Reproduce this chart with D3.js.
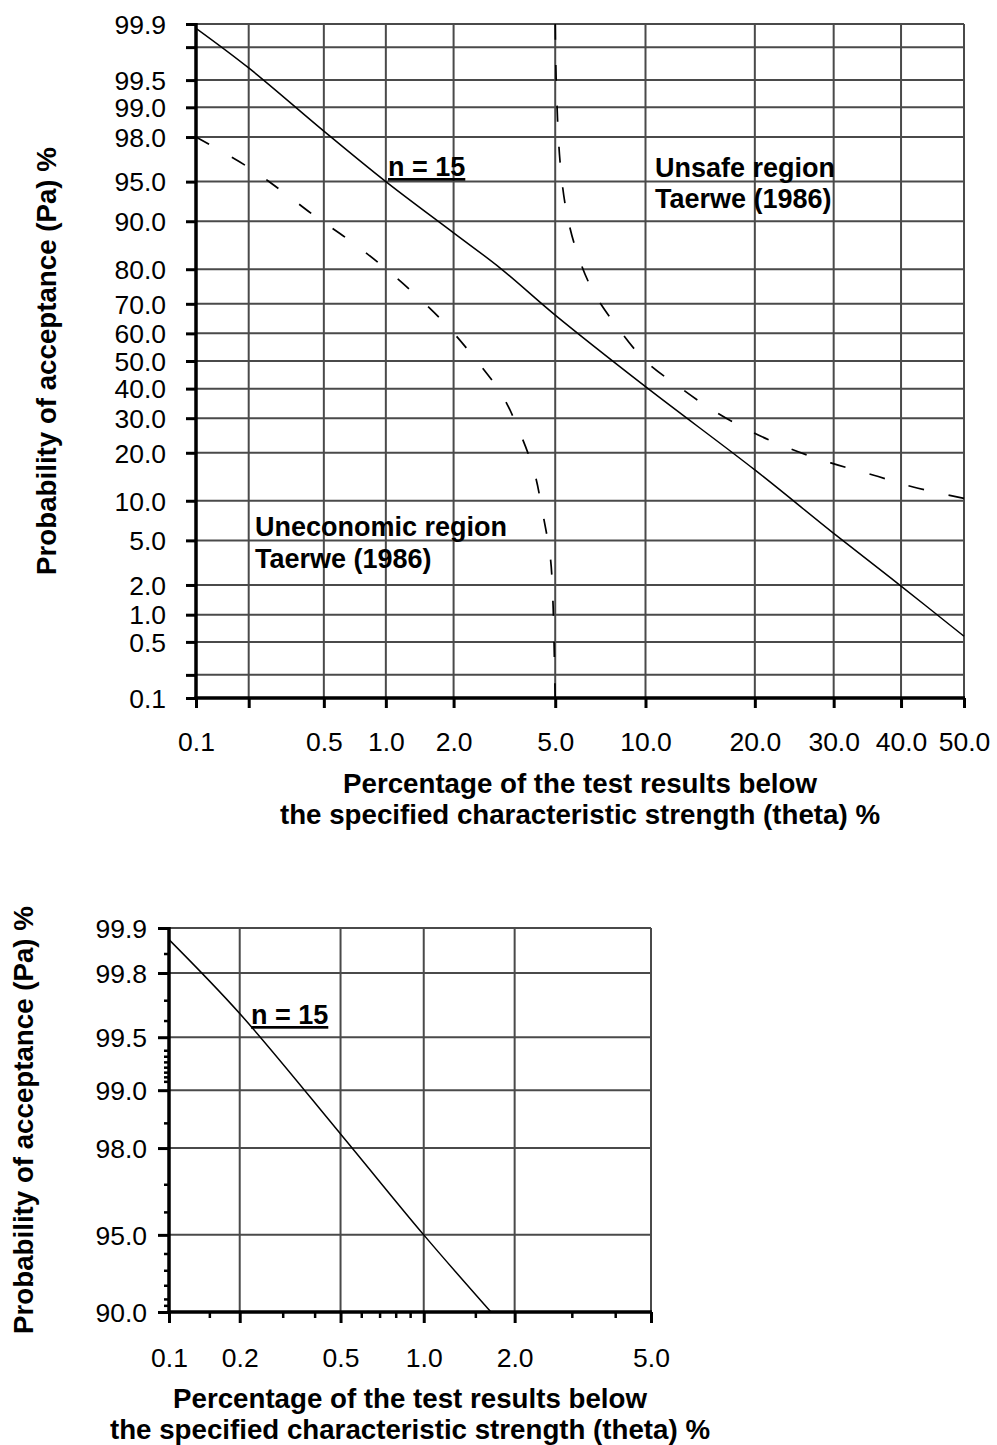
<!DOCTYPE html>
<html>
<head>
<meta charset="utf-8">
<script src="https://cdn.jsdelivr.net/npm/d3@7/dist/d3.min.js"></script>
<style>
  html, body { margin: 0; padding: 0; background: #fff; }
  svg { display: block; font-family: "Liberation Sans", Arial, sans-serif; }
  .tick text { font-size: 26.5px; fill: #000; }
  .title { font-size: 27.7px; font-weight: bold; fill: #000; }
  .note { font-size: 27px; font-weight: bold; fill: #000; }
</style>
</head>
<body>
<svg id="chart" width="997" height="1445"></svg>
<script>
// ---------------- DATA ----------------
// Top chart axes (percent values on normal-probability paper)
const topXTicks  = [0.1, 0.2, 0.5, 1.0, 2.0, 5.0, 10.0, 20.0, 30.0, 40.0, 50.0];
const topXLabels = ["0.1", "", "0.5", "1.0", "2.0", "5.0", "10.0", "20.0", "30.0", "40.0", "50.0"];
const topYTicks  = [99.9, 99.8, 99.5, 99.0, 98.0, 95.0, 90.0, 80.0, 70.0, 60.0, 50.0, 40.0, 30.0, 20.0, 10.0, 5.0, 2.0, 1.0, 0.5, 0.2, 0.1];
const topYLabels = ["99.9", "", "99.5", "99.0", "98.0", "95.0", "90.0", "80.0", "70.0", "60.0", "50.0", "40.0", "30.0", "20.0", "10.0", "5.0", "2.0", "1.0", "0.5", "", "0.1"];

// OC curve n = 15 (theta %, Pa %)
const n15Theta = [0.1, 0.2, 0.5, 1.0, 2.0, 3.1, 5.0, 10.0, 20.0, 30.0, 40.0, 50.0];
const n15Pa    = [99.886, 99.64, 98.25, 95.0, 88.0, 80.3, 66.3, 40.7, 15.9, 5.7, 1.95, 0.58];

// Uneconomic region boundary, Taerwe (1986)
const uneconTheta = [0.1, 0.2, 0.3, 0.45, 0.69, 1.0, 1.4, 1.9, 2.5, 3.15, 3.7, 4.2, 4.5, 4.8, 4.9, 4.95, 5.0];
const uneconPa    = [98.0, 96.2, 94.1, 90.8, 86.2, 80.1, 72.1, 62.2, 50.0, 37.8, 25.5, 15.2, 8.2, 3.6, 1.5, 0.52, 0.1];

// Unsafe region boundary, Taerwe (1986)
const unsafeTheta = [5.0, 5.04, 5.2, 5.47, 5.93, 6.74, 8.1, 10.0, 12.5, 15.6, 19.5, 24.3, 29.6, 35.7, 41.9, 50.0];
const unsafePa    = [99.9, 99.5, 96.7, 91.7, 84.6, 74.3, 62.6, 50.0, 40.9, 32.6, 26.0, 21.0, 17.5, 14.8, 12.4, 10.4];

// Bottom chart (zoom) axes
const botXTicks  = [0.1, 0.2, 0.5, 1.0, 2.0, 5.0];
const botXLabels = ["0.1", "0.2", "0.5", "1.0", "2.0", "5.0"];
const botXMinor  = [0.15, 0.3, 0.4, 0.6, 0.7, 0.8, 0.9, 1.5, 3.0, 4.0];
const botYTicks  = [99.9, 99.8, 99.5, 99.0, 98.0, 95.0, 90.0];
const botYLabels = ["99.9", "99.8", "99.5", "99.0", "98.0", "95.0", "90.0"];
const botYMinor  = [99.85, 99.7, 99.6, 99.4, 99.35, 99.3, 99.25, 99.2, 99.15, 99.1, 98.5, 97.0, 96.0, 94.0, 93.0, 92.0, 91.0, 90.5];

// OC curve n = 15 in the zoomed range
const zoomTheta = [0.1, 0.2, 0.5, 1.0, 1.68];
const zoomPa    = [99.88, 99.64, 98.3, 95.0, 90.0];

const xTitle1 = "Percentage of the test results below";
const xTitle2 = "the specified characteristic strength (theta) %";
const yTitle  = "Probability of acceptance (Pa) %";

// ---------------- HELPERS ----------------
function probit(p) {
  const a = [-3.969683028665376e+01, 2.209460984245205e+02, -2.759285104469687e+02, 1.383577518672690e+02, -3.066479806614716e+01, 2.506628277459239e+00];
  const b = [-5.447609879822406e+01, 1.615858368580409e+02, -1.556989798598866e+02, 6.680131188771972e+01, -1.328068155288572e+01];
  const c = [-7.784894002430293e-03, -3.223964580411365e-01, -2.400758277161838e+00, -2.549671500268305e+00, 4.374664141464968e+00, 2.938163982698783e+00];
  const d = [7.784695709041462e-03, 3.224671290700398e-01, 2.445134137142996e+00, 3.754408661907416e+00];
  const plow = 0.02425, phigh = 1 - plow;
  let q, r;
  if (p < plow) {
    q = Math.sqrt(-2 * Math.log(p));
    return (((((c[0]*q+c[1])*q+c[2])*q+c[3])*q+c[4])*q+c[5]) / ((((d[0]*q+d[1])*q+d[2])*q+d[3])*q+1);
  } else if (p <= phigh) {
    q = p - 0.5; r = q*q;
    return (((((a[0]*r+a[1])*r+a[2])*r+a[3])*r+a[4])*r+a[5])*q / (((((b[0]*r+b[1])*r+b[2])*r+b[3])*r+b[4])*r+1);
  } else {
    q = Math.sqrt(-2 * Math.log(1 - p));
    return -(((((c[0]*q+c[1])*q+c[2])*q+c[3])*q+c[4])*q+c[5]) / ((((d[0]*q+d[1])*q+d[2])*q+d[3])*q+1);
  }
}
const zv = v => probit(v / 100);

const svg = d3.select("#chart");
const GRID = "#4a4a4a";

function drawPanel(cfg) {
  const g = svg.append("g");
  const xs = d3.scaleLinear().domain([zv(cfg.xMin), zv(cfg.xMax)]).range([cfg.left, cfg.right]);
  const ys = d3.scaleLinear().domain([zv(cfg.yMin), zv(cfg.yMax)]).range([cfg.bottom, cfg.top]);
  const X = v => xs(zv(v)), Y = v => ys(zv(v));

  // gridlines
  g.append("g").selectAll("line").data(cfg.xTicks.filter(v => v !== cfg.xMin))
    .join("line").attr("x1", X).attr("x2", X).attr("y1", cfg.top).attr("y2", cfg.bottom)
    .attr("stroke", GRID).attr("stroke-width", 2);
  g.append("g").selectAll("line").data(cfg.yTicks.filter(v => v !== cfg.yMin))
    .join("line").attr("y1", Y).attr("y2", Y).attr("x1", cfg.left).attr("x2", cfg.right)
    .attr("stroke", GRID).attr("stroke-width", 2);

  // minor ticks
  if (cfg.xMinor) {
    g.append("g").selectAll("line").data(cfg.xMinor).join("line")
      .attr("x1", X).attr("x2", X).attr("y1", cfg.bottom).attr("y2", cfg.bottom + 6)
      .attr("stroke", "#000").attr("stroke-width", 2.5);
  }
  if (cfg.yMinor) {
    g.append("g").selectAll("line").data(cfg.yMinor).join("line")
      .attr("y1", Y).attr("y2", Y).attr("x1", cfg.left - 5).attr("x2", cfg.left)
      .attr("stroke", "#000").attr("stroke-width", 2.5);
  }

  // axes
  const xAxis = d3.axisBottom(xs).tickValues(cfg.xTicks.map(zv))
    .tickFormat((d, i) => cfg.xLabels[i]).tickSize(cfg.tickLen).tickSizeOuter(0).tickPadding(cfg.xPad);
  const gx = g.append("g").attr("transform", `translate(0,${cfg.bottom})`).call(xAxis);
  gx.select(".domain").remove();
  gx.selectAll(".tick line").attr("stroke", "#000").attr("stroke-width", 3);

  const yAxis = d3.axisLeft(ys).tickValues(cfg.yTicks.map(zv))
    .tickFormat((d, i) => cfg.yLabels[i]).tickSize(cfg.tickLen).tickSizeOuter(0).tickPadding(cfg.yPad);
  const gy = g.append("g").attr("transform", `translate(${cfg.left},0)`).call(yAxis);
  gy.select(".domain").remove();
  gy.selectAll(".tick line").attr("stroke", "#000").attr("stroke-width", 3);
  gx.attr("font-family", null).attr("font-size", null);
  gy.attr("font-family", null).attr("font-size", null);
  gy.selectAll(".tick text").attr("dy", "0.35em");
  gx.selectAll(".tick text").attr("dy", "0.71em");
  g.selectAll(".tick text").attr("fill", "#000");

  // axis lines (thick)
  g.append("line").attr("x1", cfg.left).attr("x2", cfg.left).attr("y1", cfg.top - 1).attr("y2", cfg.bottom + 1.5)
    .attr("stroke", "#000").attr("stroke-width", 3.5);
  g.append("line").attr("x1", cfg.left - 1.5).attr("x2", cfg.right + 1).attr("y1", cfg.bottom).attr("y2", cfg.bottom)
    .attr("stroke", "#000").attr("stroke-width", 3.5);

  // clip
  const cid = "clip" + cfg.id;
  svg.append("defs").append("clipPath").attr("id", cid).append("rect")
    .attr("x", cfg.left).attr("y", cfg.top - 2).attr("width", cfg.right - cfg.left + 2).attr("height", cfg.bottom - cfg.top + 2);

  const line = d3.line().x(d => X(d[0])).y(d => Y(d[1])).curve(d3.curveCatmullRom.alpha(0.5));
  const curves = g.append("g").attr("clip-path", `url(#${cid})`);
  cfg.series.forEach(s => {
    const p = curves.append("path").datum(d3.zip(s.x, s.y)).attr("d", line)
      .attr("fill", "none").attr("stroke", "#000").attr("stroke-width", s.width);
    if (s.dash) {
      // fit dash pattern so that the curve starts and ends with a dash
      const L = p.node().getTotalLength();
      const n = Math.max(1, Math.round((L - s.dash) / (s.dash + s.gap)));
      const gap = (L - s.dash) / n - s.dash;
      p.attr("stroke-dasharray", `${s.dash},${gap.toFixed(2)}`);
    }
  });

  // titles
  g.append("text").attr("class", "title").attr("text-anchor", "middle")
    .attr("x", (cfg.left + cfg.right) / 2).attr("y", cfg.xTitleY).text(xTitle1);
  g.append("text").attr("class", "title").attr("text-anchor", "middle")
    .attr("x", (cfg.left + cfg.right) / 2).attr("y", cfg.xTitleY + 31).text(xTitle2);
  g.append("text").attr("class", "title").attr("text-anchor", "middle")
    .attr("transform", `translate(${cfg.yTitleX},${(cfg.top + cfg.bottom) / 2}) rotate(-90)`).text(yTitle);

  return g;
}

// ---------------- TOP PANEL ----------------
const topPanel = drawPanel({
  id: "top", left: 196, right: 964, top: 24, bottom: 698,
  xMin: 0.1, xMax: 50, yMin: 0.1, yMax: 99.9,
  xTicks: topXTicks, xLabels: topXLabels, yTicks: topYTicks, yLabels: topYLabels,
  tickLen: 10, xPad: 24, yPad: 20,
  xTitleY: 793, yTitleX: 56,
  series: [
    { x: n15Theta, y: n15Pa, width: 1.5 },
    { x: uneconTheta, y: uneconPa, width: 1.7, dash: 15, gap: 26 },
    { x: unsafeTheta, y: unsafePa, width: 1.7, dash: 16, gap: 26 }
  ]
});
topPanel.append("text").attr("class", "note").attr("x", 388).attr("y", 176)
  .attr("text-decoration", "underline").text("n = 15");
topPanel.append("text").attr("class", "note").attr("x", 655).attr("y", 177).text("Unsafe region");
topPanel.append("text").attr("class", "note").attr("x", 655).attr("y", 208).text("Taerwe (1986)");
topPanel.append("text").attr("class", "note").attr("x", 255).attr("y", 536).text("Uneconomic region");
topPanel.append("text").attr("class", "note").attr("x", 255).attr("y", 568).text("Taerwe (1986)");

// ---------------- BOTTOM PANEL ----------------
const botPanel = drawPanel({
  id: "bot", left: 169, right: 651, top: 928, bottom: 1312,
  xMin: 0.1, xMax: 5.0, yMin: 90.0, yMax: 99.9,
  xTicks: botXTicks, xLabels: botXLabels, yTicks: botYTicks, yLabels: botYLabels,
  xMinor: botXMinor, yMinor: botYMinor,
  tickLen: 11, xPad: 25, yPad: 11,
  xTitleY: 1408, yTitleX: 33,
  series: [
    { x: zoomTheta, y: zoomPa, width: 1.5 }
  ]
});
botPanel.append("text").attr("class", "note").attr("x", 251).attr("y", 1024)
  .attr("text-decoration", "underline").text("n = 15");
</script>
</body>
</html>
